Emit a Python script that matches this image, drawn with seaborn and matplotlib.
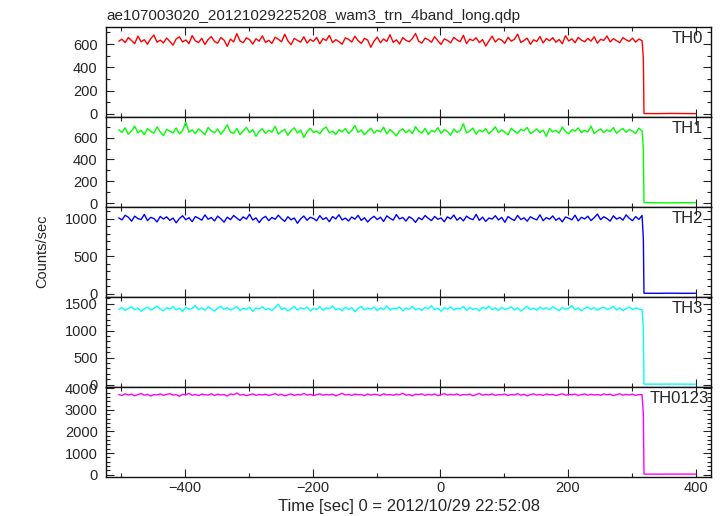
import numpy as np
import pandas as pd
import matplotlib
matplotlib.use("Agg")
import matplotlib.pyplot as plt
from matplotlib.ticker import MultipleLocator
import seaborn as sns

# ---------------- data ----------------
title = "ae107003020_20121029225208_wam3_trn_4band_long.qdp"
bands = ["TH0", "TH1", "TH2", "TH3", "TH0123"]
colors = ["#ff0000", "#00ff00", "#0000ff", "#00ffff", "#ff00ff"]
xlabel = "Time [sec] 0 = 2012/10/29 22:52:08"
ylabel = "Counts/sec"

# time bins before the drop (5 s binning), the partial bin and the bins after the drop
t_pre = np.arange(-504, 317, 5)
t_edge = [318]
t_post = [319, 340, 360, 380, 400]

th0_pre = [
    624, 641, 612, 655, 630, 603, 668, 619, 637, 598, 646, 677, 615, 633, 609,
    651, 622, 590, 644, 661, 618, 635, 603, 672, 627, 612, 649, 596, 638, 664,
    621, 607, 656, 633, 580, 642, 618, 689, 626, 611, 653, 637, 599, 645, 624,
    670, 613, 632, 605, 658, 641, 619, 684, 627, 594, 648, 631, 616, 662, 608,
    639, 623, 657, 601, 646, 630, 674, 612, 637, 621, 598, 653, 640, 617, 666,
    629, 605, 648, 634, 572, 625, 659, 611, 643, 622, 680, 614, 636, 600, 655,
    632, 619, 647, 690, 623, 608, 651, 637, 615, 663, 628, 596, 644, 631, 610,
    657, 635, 620, 675, 603, 642, 629, 654, 612, 638, 582, 626, 667, 617, 645,
    633, 606, 658, 624, 641, 685, 613, 630, 650, 597, 636, 622, 664, 609, 647,
    628, 654, 615, 639, 602, 671, 626, 644, 611, 657, 633, 619, 648, 625, 662,
    607, 640, 631, 669, 618, 646, 628, 612, 655, 636, 623, 650, 616, 642, 629]
th1_pre = [
    672, 648, 690, 631, 661, 705, 644, 668, 626, 683, 657, 640, 699, 652, 618,
    676, 661, 642, 688, 634, 664, 742, 649, 671, 637, 680, 655, 626, 693, 660,
    645, 678, 632, 669, 717, 651, 640, 684, 627, 662, 695, 646, 673, 612, 658,
    681, 639, 667, 650, 703, 633, 656, 676, 621, 664, 690, 642, 670, 601, 653,
    686, 647, 661, 635, 677, 698, 644, 659, 629, 672, 652, 683, 638, 665, 710,
    648, 671, 626, 659, 687, 641, 668, 654, 696, 633, 675, 649, 616, 662, 680,
    645, 670, 637, 701, 658, 641, 685, 629, 666, 652, 691, 640, 673, 657, 622,
    679, 648, 664, 727, 643, 660, 688, 631, 669, 654, 682, 636, 662, 699, 645,
    671, 650, 625, 686, 659, 640, 676, 663, 694, 638, 655, 680, 647, 669, 612,
    684, 652, 667, 641, 698, 657, 634, 673, 660, 689, 645, 668, 651, 706, 637,
    662, 679, 646, 671, 655, 692, 640, 666, 683, 649, 674, 658, 638, 687, 661]
th2_pre = [
    1012, 985, 1047, 1021, 968, 1035, 1002, 990, 1058, 976, 1019, 1004, 958, 1031, 997,
    1026, 979, 1010, 946, 1003, 1040, 987, 1015, 962, 1029, 1008, 981, 1052, 994, 1017,
    971, 1036, 1000, 955, 1022, 988, 1044, 1009, 977, 1025, 996, 1061, 983, 1013, 949,
    1006, 1032, 975, 1018, 993, 1048, 1001, 966, 1027, 986, 1011, 940, 999, 1037, 980,
    1020, 1005, 973, 1042, 991, 1016, 961, 1030, 998, 1054, 984, 1009, 970, 1024, 995,
    1046, 978, 1014, 957, 1003, 1033, 989, 1021, 964, 1039, 1007, 982, 1056, 997, 1018,
    969, 1028, 1001, 952, 1015, 987, 1043, 1006, 976, 1031, 993, 1012, 960, 1026, 999,
    1050, 981, 1017, 972, 1035, 1004, 988, 1059, 979, 1022, 965, 1010, 996, 1041, 984,
    1019, 953, 1030, 1000, 977, 1045, 990, 1013, 968, 1027, 1002, 985, 1053, 974, 1016,
    994, 1038, 980, 1011, 959, 1024, 1007, 986, 1048, 971, 1020, 998, 1034, 976, 1015,
    1063, 989, 1027, 1003, 969, 1040, 995, 1018, 982, 1052, 1006, 975, 1029, 991, 1044]
th3_pre = [
    1395, 1428, 1376, 1412, 1445, 1388, 1420, 1361, 1407, 1437, 1382, 1415, 1454, 1399, 1370,
    1426, 1403, 1448, 1385, 1418, 1359, 1432, 1396, 1411, 1467, 1390, 1423, 1378, 1440, 1404,
    1364, 1419, 1451, 1393, 1427, 1381, 1409, 1446, 1372, 1415, 1398, 1435, 1357, 1421, 1402,
    1443, 1387, 1413, 1375, 1430, 1492, 1394, 1420, 1366, 1405, 1449, 1383, 1425, 1401, 1438,
    1368, 1416, 1391, 1444, 1379, 1422, 1406, 1459, 1388, 1413, 1371, 1434, 1397, 1427, 1352,
    1410, 1447, 1385, 1419, 1400, 1438, 1374, 1424, 1392, 1456, 1381, 1414, 1403, 1439, 1367,
    1421, 1398, 1452, 1386, 1411, 1376, 1433, 1405, 1462, 1390, 1418, 1360, 1425, 1399, 1441,
    1383, 1416, 1404, 1448, 1378, 1429, 1395, 1413, 1370, 1436, 1402, 1457, 1389, 1420, 1375,
    1431, 1397, 1412, 1443, 1384, 1426, 1363, 1408, 1450, 1393, 1419, 1378, 1437, 1401, 1424,
    1388, 1445, 1406, 1372, 1432, 1398, 1415, 1465, 1386, 1422, 1369, 1410, 1440, 1394, 1427,
    1380, 1418, 1435, 1396, 1413, 1451, 1384, 1423, 1374, 1409, 1438, 1391, 1420, 1403, 1386]
th0123_pre = [
    3712, 3668, 3745, 3690, 3728, 3655, 3703, 3760, 3681, 3722, 3642, 3710, 3695, 3738, 3674,
    3719, 3750, 3686, 3707, 3631, 3724, 3698, 3765, 3679, 3715, 3660, 3733, 3701, 3688, 3748,
    3669, 3726, 3694, 3711, 3642, 3739, 3705, 3780, 3683, 3720, 3657, 3698, 3742, 3676, 3716,
    3690, 3731, 3664, 3708, 3753, 3682, 3723, 3648, 3701, 3737, 3673, 3712, 3696, 3758, 3685,
    3724, 3662, 3706, 3744, 3679, 3718, 3693, 3729, 3651, 3710, 3767, 3687, 3721, 3670, 3735,
    3699, 3715, 3658, 3741, 3684, 3726, 3702, 3663, 3749, 3690, 3717, 3676, 3733, 3696, 3771,
    3681, 3712, 3647, 3727, 3705, 3744, 3672, 3719, 3688, 3736, 3660, 3708, 3752, 3685, 3723,
    3694, 3740, 3667, 3714, 3698, 3730, 3655, 3706, 3761, 3682, 3720, 3689, 3745, 3673, 3711,
    3700, 3734, 3664, 3716, 3692, 3754, 3678, 3725, 3649, 3709, 3743, 3686, 3718, 3671, 3737,
    3695, 3722, 3659, 3707, 3748, 3680, 3715, 3697, 3732, 3666, 3711, 3739, 3684, 3724, 3691,
    3713, 3676, 3741, 3699, 3728, 3661, 3705, 3746, 3683, 3719, 3694, 3730, 3670, 3712, 3702]

edge_vals = [480, 500, 730, 1050, 2800]
th0_post = [3, 2, 4, 3, 2]
th1_post = [4, 3, 2, 4, 3]
th2_post = [6, 5, 7, 5, 6]
th3_post = [8, 7, 9, 8, 7]
th0123_post = [21, 18, 22, 20, 19]

pre_all = [th0_pre, th1_pre, th2_pre, th3_pre, th0123_pre]
post_all = [th0_post, th1_post, th2_post, th3_post, th0123_post]

# axis settings per panel
ylims = [(-26, 746), (-34, 790), (-40, 1160), (-38, 1630), (-90, 4080)]
ymajor = [200, 200, 500, 500, 1000]
yminor = [100, 100, 100, 100, 200]

rows = []
for b, pre, e, post in zip(bands, pre_all, edge_vals, post_all):
    times = list(t_pre) + t_edge + t_post
    vals = list(pre) + [e] + list(post)
    for t, v in zip(times, vals):
        rows.append({"band": b, "time": t, "rate": v})
df = pd.DataFrame(rows)

# ---------------- plot ----------------
sns.set_style("ticks")
plt.rcParams["font.family"] = ["Liberation Sans", "DejaVu Sans"]
plt.rcParams["axes.unicode_minus"] = True

fig, axes = plt.subplots(5, 1, figsize=(7.22, 5.16), dpi=100, sharex=True,
                         gridspec_kw={"hspace": 0})
fig.subplots_adjust(left=106 / 722, right=711 / 722, top=1 - 27 / 516, bottom=1 - 476.5 / 516)

label_x = [0.987, 0.987, 0.987, 0.987, 0.996]
for i, (ax, b, c) in enumerate(zip(axes, bands, colors)):
    sub = df[df["band"] == b]
    sns.lineplot(data=sub, x="time", y="rate", color=c, lw=1.0, estimator=None,
                 sort=False, ax=ax, legend=False)
    ax.set_ylim(*ylims[i])
    ax.set_xlim(-524, 424)
    ax.yaxis.set_major_locator(MultipleLocator(ymajor[i]))
    ax.yaxis.set_minor_locator(MultipleLocator(yminor[i]))
    ax.xaxis.set_major_locator(MultipleLocator(200))
    ax.xaxis.set_minor_locator(MultipleLocator(100))
    ax.tick_params(which="both", direction="in", top=True, right=True, color="#222222",
                   labelsize=10.5, width=0.8)
    ax.tick_params(which="major", length=5.5)
    ax.tick_params(which="minor", length=3)
    ax.tick_params(axis="y", pad=6)
    ax.tick_params(axis="x", pad=3)
    ax.set_xlabel("")
    ax.set_ylabel("")
    for s in ax.spines.values():
        s.set_color("#111111")
        s.set_linewidth(1.0)
    ax.text(label_x[i], 0.955, b, transform=ax.transAxes, ha="right", va="top",
            fontsize=12)

fig.text(106 / 722, 1 - 20 / 516, title, ha="left", va="baseline", fontsize=11)
fig.text(408.5 / 722, 1 - 507 / 516, xlabel, ha="center", va="center", fontsize=12)
fig.text(42 / 722, 1 - 251.5 / 516, ylabel, ha="center", va="center", rotation=90,
         fontsize=10.5)

fig.savefig("out.png", dpi=100)
